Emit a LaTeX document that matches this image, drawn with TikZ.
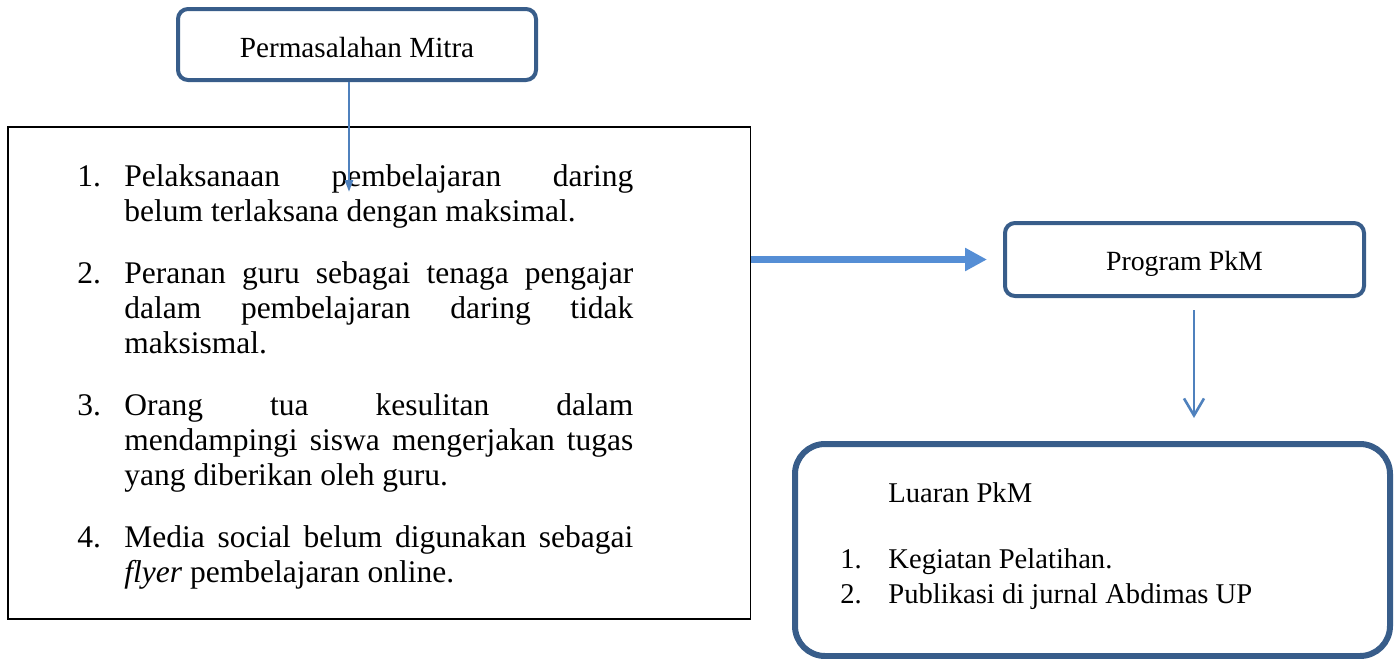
\documentclass[tikz,border=0pt]{standalone}
\usepackage{fontspec}
\setmainfont{Liberation Serif}
\usetikzlibrary{arrows.meta}
\definecolor{boxblue}{RGB}{56,93,138}
\definecolor{linkblue}{RGB}{79,129,189}
\definecolor{flowblue}{RGB}{85,142,213}
\tolerance=10000
\hbadness=10000

\begin{document}
\begin{tikzpicture}[x=0.5pt,y=-0.5pt,
  roundbox/.style={draw=boxblue, line width=2pt, rounded corners=5pt, inner sep=0pt},
  numtext/.style={anchor=base west, inner sep=0pt, font=\fontsize{15.75pt}{17.5pt}\selectfont},
  itemtext/.style={numtext, text width=254.5pt, align=justify},
  smalltext/.style={anchor=base west, inner sep=0pt, font=\fontsize{14.3pt}{17.5pt}\selectfont},
  thinarrow/.style={draw=linkblue, line width=1.3pt},
  flowarrow/.style={draw=flowblue, line width=3.5pt, -{Triangle[length=11pt,width=11pt]}}]

\useasboundingbox (0,0) rectangle (1399,659);

\node[roundbox, minimum width=179pt, minimum height=35.5pt, text height=13pt, text depth=0pt, font=\fontsize{14.6pt}{17pt}\selectfont] (perm) at (357,44.5) {Permasalahan Mitra};
\node[draw=black, line width=0.8pt, inner sep=0pt, minimum width=371.25pt, minimum height=246pt] (probs) at (379.25,373) {};

\node[numtext] (n1) at (77,186.7) {1.};
\node[itemtext] (t1) at (124,186.7) {Pelaksanaan pembelajaran daring\linebreak belum terlaksana dengan maksimal.};
\node[numtext] (n2) at (77,283) {2.};
\node[itemtext] (t2) at (124,283) {Peranan guru sebagai tenaga pengajar\linebreak dalam pembelajaran daring tidak\linebreak maksismal.};
\node[numtext] (n3) at (77,415) {3.};
\node[itemtext] (t3) at (124,415) {Orang tua kesulitan dalam\linebreak mendampingi siswa mengerjakan tugas\linebreak yang diberikan oleh guru.};
\node[numtext] (n4) at (77,547) {4.};
\node[itemtext] (t4) at (124,547) {Media social belum digunakan sebagai\linebreak \textit{flyer} pembelajaran online.};

\node[roundbox, minimum width=179.5pt, minimum height=36.5pt, text height=13.5pt, text depth=3pt, font=\fontsize{13.9pt}{17pt}\selectfont] (prog) at (1184.5,259.5) {Program PkM};

\node[roundbox, line width=3pt, rounded corners=15pt, minimum width=297.5pt, minimum height=106pt] (lua) at (1092.5,550) {};
\node[smalltext] (luahead) at (888,502) {Luaran PkM};
\node[smalltext] (luan1) at (840,568) {1.};
\node[smalltext] (luat1) at (888,568) {Kegiatan Pelatihan.};
\node[smalltext] (luan2) at (840,603) {2.};
\node[smalltext] (luat2) at (888,603) {Publikasi di jurnal Abdimas UP};

\coordinate (pTip) at (349,192);
\coordinate (oTip) at (1194,418);
\draw[thinarrow, -{Triangle[length=6pt,width=4pt]}] (perm.south -| pTip) -- (pTip);
\draw[flowarrow, shorten >=8pt] (probs.east |- prog.west) -- (prog.west);
\draw[thinarrow, -{Straight Barb[length=8.5pt,width=10pt]}, shorten <=6pt] (prog.south -| oTip) -- (oTip);

\end{tikzpicture}
\end{document}
